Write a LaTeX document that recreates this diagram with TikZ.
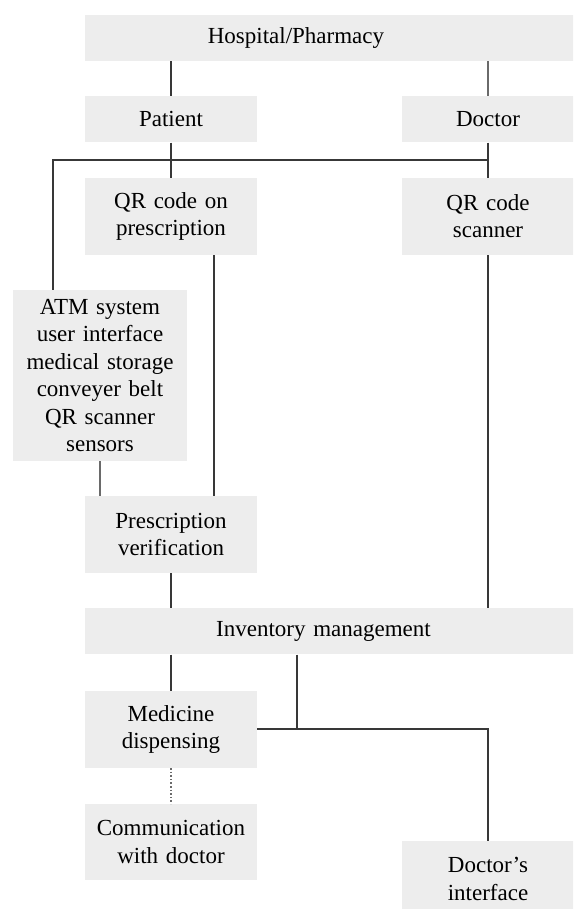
\documentclass[tikz,border=0pt]{standalone}
\usepackage{fontspec}
\setmainfont{Liberation Serif}
\usetikzlibrary{positioning,calc}
\definecolor{boxgray}{HTML}{EDEDED}
\definecolor{linedark}{HTML}{383838}
\definecolor{linelight}{HTML}{6A6A6A}

\begin{document}
\begin{tikzpicture}[x=1pt,y=1pt,
    box/.style={fill=boxgray, inner sep=0pt, text width=172pt, minimum height=46pt,
        align=center, font=\fontsize{23}{27.5}\selectfont},
    wide/.style={box, text width=489pt},
    link/.style={draw=linedark, line width=1.8pt},
    lightlink/.style={draw=linelight, line width=1.6pt}]

        \useasboundingbox (0,0) rectangle (573,-909);
        \clip (0,0) rectangle (573,-909);

        \node (hosp) [wide] at (329.5,-38) {Hospital/Pharmacy\rule{67pt}{0pt}};
        \node (pat) [box, below right=35pt and 0pt of hosp.south west] {Patient};
        \node (doc) [box, below left=35pt and 0pt of hosp.south east] {Doctor};

        \node (qrp) [box, minimum height=77pt, below=35pt of pat] {QR code on\\prescription};
        \node (qrs) [box, minimum height=77pt, below=35pt of doc] {QR code\\scanner};

        \node (atm) [box, text width=174pt, minimum height=171pt] at (100,-375.5)
            {ATM system\\user interface\\medical storage\\conveyer belt\\QR scanner\\sensors};

        \node (ver) [box, minimum height=77pt] at (171,-534.5) {Prescription\\verification};
        \node (inv) [wide, below right=35pt and 0pt of ver.south west] {Inventory management\rule{12pt}{0pt}};

        \node (disp) [box, minimum height=77pt, below right=36pt and 0pt of inv.south west] {Medicine\\dispensing};
        \node (comm) [box, minimum height=76pt, below=36pt of disp] {Communication\\with doctor};
        \node (dint) [box, minimum height=76pt] at (488,-879) {Doctor's\\interface};

        \coordinate (j1) at ($(pat.south)!0.5!(qrp.north)$);
        \coordinate (atmin) at ([xshift=40pt]atm.north west);
        \coordinate (j2) at ([xshift=40pt]disp.east);

        \draw[link] (hosp.south -| pat.north) -- (pat.north);
        \draw[lightlink] (hosp.south -| doc.north) -- (doc.north);
        \draw[link] (pat) -- (qrp);
        \draw[link] (doc) -- (qrs);
        \draw[link] (doc.south |- j1) -| (atmin);
        \draw[link] ([xshift=-43pt]qrp.south east) -- ([xshift=-43pt]ver.north east);
        \draw[lightlink] (atm) -- (atm |- ver.north);
        \draw[link] (qrs) -- (qrs |- inv.north);
        \draw[link] (ver) -- (ver |- inv.north);
        \draw[link] (inv.south -| disp) -- (disp);
        \draw[link] (j2 |- inv.south) -- (j2);
        \draw[link] (disp) -| (dint);
        \draw[lightlink, dotted] (disp) -- (comm);

\end{tikzpicture}
\end{document}
